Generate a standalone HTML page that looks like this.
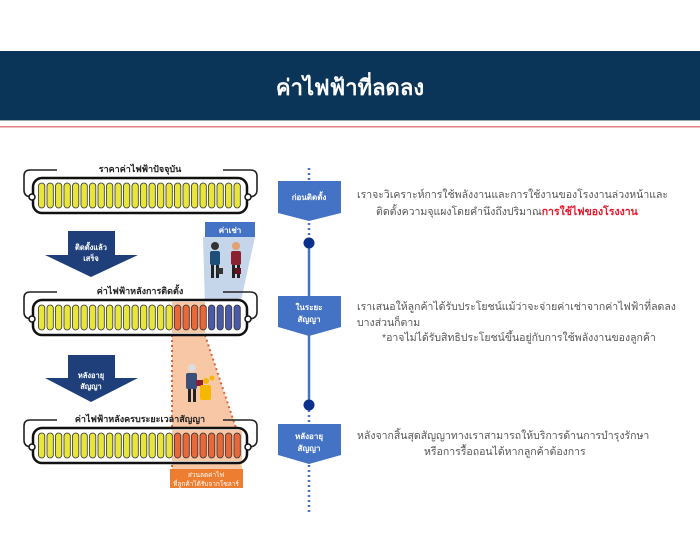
<!DOCTYPE html>
<html><head><meta charset="utf-8"><style>
html,body{margin:0;padding:0;background:#fff;width:700px;height:560px;overflow:hidden}
svg{display:block}
text{font-family:"Liberation Sans","DejaVu Sans",sans-serif}
</style></head><body>
<svg width="700" height="560" viewBox="0 0 700 560" xmlns="http://www.w3.org/2000/svg">
<rect x="0" y="51" width="700" height="69" fill="#0a3558"/>
<text x="350" y="95" font-size="22" font-weight="bold" fill="#fff" text-anchor="middle">ค่าไฟฟ้าที่ลดลง</text>
<rect x="0" y="120" width="700" height="1" fill="#9aa"/>
<rect x="0" y="126" width="700" height="1.5" fill="#e08080"/>

<!-- trapezoids -->
<polygon points="203,237 255,237 240,305 205,305" fill="#c5d5ea"/>
<rect x="205" y="222" width="50" height="15" fill="#4472c4"/>
<text x="230" y="233" font-size="8" font-weight="bold" fill="#fff" text-anchor="middle">ค่าเช่า</text>
<polygon points="172,335 205,335 240,440 242,470 172,470" fill="#f8c7a6"/>
<line x1="172" y1="335" x2="172" y2="470" stroke="#d9663a" stroke-width="2" stroke-dasharray="2,3"/>
<line x1="205" y1="335" x2="240" y2="440" stroke="#d9663a" stroke-width="2" stroke-dasharray="2,3"/>
<rect x="170" y="469" width="73" height="19" fill="#ed7d31"/>
<text x="206" y="477" font-size="6.5" fill="#fff" text-anchor="middle">ส่วนลดค่าไฟ</text>
<text x="206" y="486" font-size="6.5" fill="#fff" text-anchor="middle">ที่ลูกค้าได้รับจากโซลาร์</text>

<!-- people icons -->
<g>
<circle cx="215" cy="246" r="4" fill="#333"/><rect x="210" y="251" width="10" height="14" rx="2" fill="#1f4e79"/><rect x="211" y="265" width="3" height="13" fill="#222"/><rect x="216" y="265" width="3" height="13" fill="#222"/><rect x="217" y="268" width="6" height="6" fill="#333"/>
<circle cx="236" cy="246" r="4" fill="#e3a070"/><rect x="231" y="251" width="10" height="14" rx="2" fill="#8b2030"/><rect x="232" y="265" width="3" height="13" fill="#222"/><rect x="237" y="265" width="3" height="13" fill="#222"/><rect x="235" y="268" width="6" height="6" fill="#6b1020"/>
<circle cx="192" cy="368" r="4" fill="#ddd"/><rect x="186" y="373" width="11" height="16" rx="2" fill="#3a4f7a"/><rect x="188" y="389" width="3" height="13" fill="#222"/><rect x="193" y="389" width="3" height="13" fill="#222"/><rect x="196" y="380" width="7" height="6" fill="#8b2030"/>
<rect x="200" y="385" width="11" height="15" rx="2" fill="#f5b800"/><circle cx="206" cy="381" r="3" fill="#f5b800"/><circle cx="212" cy="378" r="2.5" fill="#f5b800"/>
</g>

<!-- batteries -->
<defs>
<g id="brk" fill="none" stroke="#222" stroke-width="1.6">
<path d="M57,0 H30 Q24,0 24,6 V20 Q24,27 32,27"/>
<path d="M223,0 H250 Q257,0 257,6 V20 Q257,27 248,27"/>
</g>
</defs>
<g id="b1">
<text x="140" y="172" font-size="9" font-weight="bold" fill="#222" text-anchor="middle">ราคาค่าไฟฟ้าปัจจุบัน</text>
<use href="#brk" transform="translate(0,170)"/>
<rect x="33" y="178" width="214" height="35" rx="9" fill="#fff" stroke="#111" stroke-width="2.5"/>
<circle cx="32" cy="197" r="3" fill="#fff" stroke="#111" stroke-width="1.5"/><circle cx="248" cy="197" r="3" fill="#fff" stroke="#111" stroke-width="1.5"/>
</g>
<g>
<text x="140" y="294" font-size="9" font-weight="bold" fill="#222" text-anchor="middle">ค่าไฟฟ้าหลังการติดตั้ง</text>
<use href="#brk" transform="translate(0,292)"/>
<rect x="33" y="300" width="214" height="35" rx="9" fill="#fff" stroke="#111" stroke-width="2.5"/>
<rect x="172" y="302" width="33" height="31" fill="#f8c7a6"/>
<circle cx="32" cy="319" r="3" fill="#fff" stroke="#111" stroke-width="1.5"/><circle cx="248" cy="319" r="3" fill="#fff" stroke="#111" stroke-width="1.5"/>
</g>
<g>
<text x="140" y="422" font-size="9" font-weight="bold" fill="#222" text-anchor="middle">ค่าไฟฟ้าหลังครบระยะเวลาสัญญา</text>
<use href="#brk" transform="translate(0,420)"/>
<rect x="33" y="428" width="214" height="35" rx="9" fill="#fff" stroke="#111" stroke-width="2.5"/>
<rect x="172" y="430" width="70" height="31" fill="#f8c7a6"/>
<circle cx="32" cy="447" r="3" fill="#fff" stroke="#111" stroke-width="1.5"/><circle cx="248" cy="447" r="3" fill="#fff" stroke="#111" stroke-width="1.5"/>
</g>
<g id="cells" stroke="#333" stroke-width="0.8"></g>

<!-- down arrows -->
<polygon points="68,231 115,231 115,255 138,255 91,277 45,255 68,255" fill="#1f3f7a"/>
<text x="91" y="250" font-size="7.5" font-weight="bold" fill="#fff" text-anchor="middle">ติดตั้งแล้ว</text>
<text x="91" y="261" font-size="7.5" font-weight="bold" fill="#fff" text-anchor="middle">เสร็จ</text>
<polygon points="68,355 115,355 115,378 138,378 91,402 45,378 68,378" fill="#1f3f7a"/>
<text x="91" y="378" font-size="7.5" font-weight="bold" fill="#fff" text-anchor="middle">หลังอายุ</text>
<text x="91" y="389" font-size="7.5" font-weight="bold" fill="#fff" text-anchor="middle">สัญญา</text>

<!-- timeline -->
<line x1="309" y1="168" x2="309" y2="243" stroke="#4472c4" stroke-width="2.5" stroke-dasharray="2,3"/>
<line x1="309" y1="243" x2="309" y2="405" stroke="#4472c4" stroke-width="2.5"/>
<line x1="309" y1="405" x2="309" y2="512" stroke="#4472c4" stroke-width="2.5" stroke-dasharray="2,3"/>
<circle cx="309" cy="243" r="5.5" fill="#0b2f8a"/>
<circle cx="309" cy="405" r="5.5" fill="#0b2f8a"/>
<polygon points="278,181 341,181 341,213 309,221 278,213" fill="#4472c4"/>
<text x="309" y="200" font-size="8" font-weight="bold" fill="#fff" text-anchor="middle">ก่อนติดตั้ง</text>
<polygon points="278,296 341,296 341,327 309,336 278,327" fill="#4472c4"/>
<text x="309" y="310" font-size="8" font-weight="bold" fill="#fff" text-anchor="middle">ในระยะ</text>
<text x="309" y="322" font-size="8" font-weight="bold" fill="#fff" text-anchor="middle">สัญญา</text>
<polygon points="278,424 341,424 341,455 309,464 278,455" fill="#4472c4"/>
<text x="309" y="439" font-size="8" font-weight="bold" fill="#fff" text-anchor="middle">หลังอายุ</text>
<text x="309" y="451" font-size="8" font-weight="bold" fill="#fff" text-anchor="middle">สัญญา</text>

<g font-size="10.5" fill="#555">
<text x="357" y="198">เราจะวิเคราะห์การใช้พลังงานและการใช้งานของโรงงานล่วงหน้าและ</text>
<text x="376" y="215">ติดตั้งความจุแผงโดยคำนึงถึงปริมาณ<tspan fill="#e8192c" font-weight="bold">การใช้ไฟของโรงงาน</tspan></text>
<text x="357" y="310">เราเสนอให้ลูกค้าได้รับประโยชน์แม้ว่าจะจ่ายค่าเช่าจากค่าไฟฟ้าที่ลดลง</text>
<text x="357" y="326">บางส่วนก็ตาม</text>
<text x="382" y="341">*อาจไม่ได้รับสิทธิประโยชน์ขึ้นอยู่กับการใช้พลังงานของลูกค้า</text>
<text x="357" y="439">หลังจากสิ้นสุดสัญญาทางเราสามารถให้บริการด้านการบำรุงรักษา</text>
<text x="424" y="455">หรือการรื้อถอนได้หากลูกค้าต้องการ</text>
</g>
<script>
(function(){var g=document.getElementById('cells');var ns='http://www.w3.org/2000/svg';
var rows=[[183,0],[305,1],[433,2]];
rows.forEach(function(r){for(var i=0;i<24;i++){var c='#e8e63a';
if(r[1]==1){if(i>=16&&i<20)c='#e8683a';else if(i>=20)c='#4a5aa8';}
if(r[1]==2&&i>=16)c='#e8683a';
var e=document.createElementNS(ns,'rect');e.setAttribute('x',38.5+i*8.5);e.setAttribute('y',r[0]);
e.setAttribute('width',6.3);e.setAttribute('height',25);e.setAttribute('rx',3.1);e.setAttribute('fill',c);g.appendChild(e);}});
})();
</script>
</svg>
</body></html>
